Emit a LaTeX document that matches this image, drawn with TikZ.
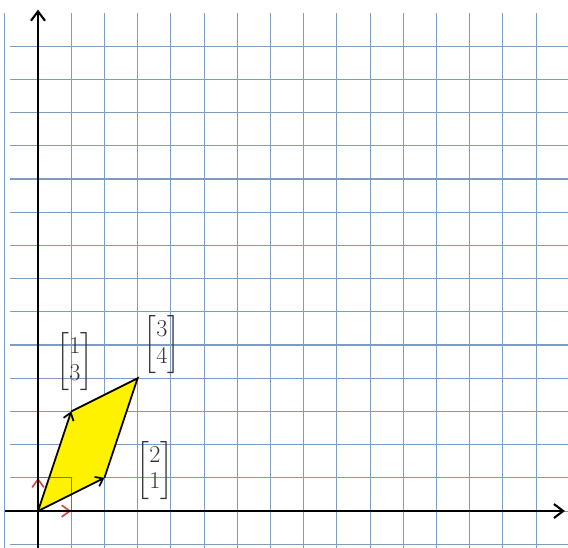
\documentclass[tikz,border=0pt]{standalone}
\usepackage{amsmath}
\usetikzlibrary{arrows.meta}
\usetikzlibrary{positioning}
\definecolor{GrilleBleue}{HTML}{7E9DBE}
\definecolor{JauneVif}{HTML}{FFF200}
\definecolor{RougeCrayon}{HTML}{D9443C}
\tikzset{
	grille/.style={color=GrilleBleue, line width=0.9},
	axe/.style={line width=1.8, arrows={-Straight Barb[length=8, width=12]}},
	vecteur/.style={line width=1.5, arrows={-Straight Barb[length=6, width=9]}},
	cote/.style={line width=1.5},
	rouge/.style={color=RougeCrayon, line width=1.4, arrows={-Straight Barb[length=7, width=10]}},
	matrice/.style={text=black!80, font=\fontsize{21}{23}\selectfont, inner sep=1pt}
}
\begin{document}
\begin{tikzpicture}
    \useasboundingbox (-1.145,-1.084) rectangle (15.96,15.39);
    % Draw the grid paper.
    \foreach \x in {-1,...,15} {
        \draw[grille] (\x,-1.1) -- (\x,15);
    }
    \foreach \y in {-1,...,14} {
        \draw[grille] (-0.85,\y) -- (16,\y);
    }
    \coordinate (O) at (0,0);
    \coordinate (U) at (2,1);
    \coordinate (V) at (1,3);
    \coordinate (S) at (3,4);
    \coordinate (E1) at (1,0);
    \coordinate (E2) at (0,1);
    \coordinate (E12) at (1,1);
    \coordinate (Xfin) at (15.87,0);
    \coordinate (Xdeb) at (-1,0);
    \coordinate (Yfin) at (0,15.1);
    \coordinate (Ydeb) at (0,-1.1);
    % the parallelogram
    \fill[JauneVif] (O) -- (U) -- (S) -- (V) -- cycle;
    % unit square
    \draw[color=RougeCrayon, line width=1.1] (E1) -- (E12) -- (E2);
    \draw[rouge] (O) -- (E1);
    \draw[rouge] (O) -- (E2);
    % Draw the x-axis and y-axis.
    \draw[axe] (Xdeb) -- (Xfin);
    \draw[axe] (Ydeb) -- (Yfin);
    \draw[vecteur] (O) -- (U);
    \draw[vecteur] (O) -- (V);
    \draw[cote] (U) -- (S) -- (V);
    \node[matrice] (mV) at ([shift={(0.11,1.49)}]V) {$\begin{bmatrix}1\\3\end{bmatrix}$};
    \node[matrice] (mS) at ([shift={(0.73,1.0)}]S) {$\begin{bmatrix}3\\4\end{bmatrix}$};
    \node[matrice] (mU) at ([shift={(1.52,0.23)}]U) {$\begin{bmatrix}2\\1\end{bmatrix}$};
\end{tikzpicture}
\end{document}
